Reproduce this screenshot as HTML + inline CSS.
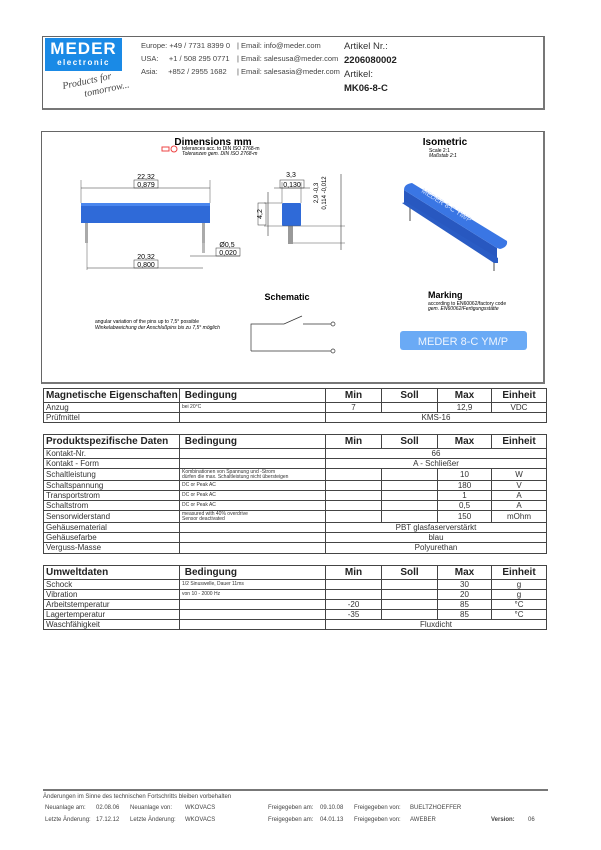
<!DOCTYPE html>
<html><head><meta charset="utf-8">
<style>
body{margin:0;width:601px;height:850px;background:#fff;position:relative;font-family:"Liberation Sans",sans-serif;color:#222;overflow:hidden}
.a{position:absolute;white-space:nowrap}
.box{position:absolute;border:1px solid #666;border-right:2px solid #777;border-bottom:2px solid #777}
table{position:absolute;border-collapse:collapse;left:43px;width:503px;table-layout:fixed}
td{border:1px solid #444;padding:0 2px;font-size:8px;line-height:8px;overflow:hidden;white-space:nowrap;color:#333}
td.c{text-align:center}
tr.h td{font-size:10px;font-weight:bold;color:#222;line-height:12px}
td.s{font-size:5px;line-height:5px}
</style></head><body>

<!-- header -->
<div class="box" style="left:42px;top:36px;width:500px;height:71px"></div>
<div class="a" style="left:45px;top:38px;width:77px;height:33px;background:#1a8ae6"></div>
<div class="a" style="left:47px;top:39px;width:73px;text-align:center;color:#fff;font-weight:bold;font-size:17px;letter-spacing:1px">MEDER</div>
<div class="a" style="left:47px;top:58px;width:73px;text-align:center;color:#fff;font-weight:bold;font-size:8px;letter-spacing:1.5px">electronic</div>
<div class="a" style="left:62px;top:76px;font-family:'Liberation Serif',serif;font-style:italic;font-size:10px;color:#444;transform:rotate(-12deg)">Products for</div>
<div class="a" style="left:84px;top:84px;font-family:'Liberation Serif',serif;font-style:italic;font-size:10px;color:#444;transform:rotate(-12deg)">tomorrow...</div>
<div class="a" style="left:141px;top:41px;font-size:7.5px;color:#444">Europe: +49 / 7731 8399 0</div>
<div class="a" style="left:141px;top:54px;font-size:7.5px;color:#444">USA:&nbsp;&nbsp;&nbsp;&nbsp; +1 / 508 295 0771</div>
<div class="a" style="left:141px;top:67px;font-size:7.5px;color:#444">Asia:&nbsp;&nbsp;&nbsp;&nbsp; +852 / 2955 1682</div>
<div class="a" style="left:237px;top:41px;font-size:7.5px;color:#444">| Email: info@meder.com</div>
<div class="a" style="left:237px;top:54px;font-size:7.5px;color:#444">| Email: salesusa@meder.com</div>
<div class="a" style="left:237px;top:67px;font-size:7.5px;color:#444">| Email: salesasia@meder.com</div>
<div class="a" style="left:344px;top:41px;font-size:9.5px;color:#333">Artikel Nr.:</div>
<div class="a" style="left:344px;top:55px;font-size:9.5px;font-weight:bold;color:#222">2206080002</div>
<div class="a" style="left:344px;top:69px;font-size:9.5px;color:#333">Artikel:</div>
<div class="a" style="left:344px;top:83px;font-size:9.5px;font-weight:bold;color:#222">MK06-8-C</div>

<!-- drawing box -->
<div class="box" style="left:41px;top:131px;width:501px;height:250px"></div>
<svg class="a" style="left:0;top:0" width="601" height="400" font-family="Liberation Sans, sans-serif">
<text x="213" y="145" font-size="10" font-weight="bold" text-anchor="middle">Dimensions mm</text>
<text x="182" y="150" font-size="5">tolerances acc. to DIN ISO 2768-m</text>
<text x="182" y="155" font-size="5" font-style="italic">Toleranzen gem. DIN ISO 2768-m</text>
<circle cx="174" cy="149" r="3" fill="none" stroke="#e44" stroke-width="1"/>
<rect x="162" y="147" width="7" height="4" fill="none" stroke="#e44"/>
<!-- side view -->
<rect x="81" y="203" width="129" height="20" fill="#2f6ad8"/>
<rect x="81" y="203" width="129" height="3" fill="#4a86ee"/>
<line x1="81" y1="180" x2="81" y2="203" stroke="#555" stroke-width=".5"/>
<line x1="210" y1="180" x2="210" y2="203" stroke="#555" stroke-width=".5"/>
<line x1="81" y1="188" x2="210" y2="188" stroke="#333" stroke-width=".6"/>
<text x="146" y="179" font-size="7" text-anchor="middle">22,32</text>
<rect x="134" y="180" width="24" height="8" fill="none" stroke="#333" stroke-width=".5"/>
<text x="146" y="187" font-size="7" text-anchor="middle">0,879</text>
<rect x="85" y="223" width="3" height="20" fill="#aaa"/>
<rect x="202" y="223" width="3" height="20" fill="#aaa"/>
<rect x="202" y="243" width="3" height="10" fill="#bbb"/>
<line x1="87" y1="243" x2="87" y2="270" stroke="#555" stroke-width=".5"/>
<line x1="87" y1="268" x2="203" y2="268" stroke="#333" stroke-width=".6"/>
<text x="146" y="259" font-size="7" text-anchor="middle">20,32</text>
<rect x="134" y="260" width="24" height="8" fill="none" stroke="#333" stroke-width=".5"/>
<text x="146" y="267" font-size="7" text-anchor="middle">0,800</text>
<line x1="190" y1="256" x2="240" y2="256" stroke="#333" stroke-width=".5"/>
<text x="227" y="247" font-size="7" text-anchor="middle">Ø0,5</text>
<rect x="216" y="248" width="24" height="8" fill="none" stroke="#333" stroke-width=".5"/>
<text x="228" y="255" font-size="7" text-anchor="middle">0,020</text>
<!-- end view -->
<rect x="282" y="203" width="19" height="23" rx="1" fill="#2f6ad8"/>
<rect x="288" y="226" width="5" height="18" fill="#999"/>
<line x1="282" y1="182" x2="282" y2="203" stroke="#555" stroke-width=".5"/>
<line x1="301" y1="182" x2="301" y2="203" stroke="#555" stroke-width=".5"/>
<line x1="274" y1="188" x2="310" y2="188" stroke="#333" stroke-width=".6"/>
<text x="291" y="177" font-size="7" text-anchor="middle">3,3</text>
<rect x="280" y="180" width="24" height="8" fill="none" stroke="#333" stroke-width=".5"/>
<text x="292" y="187" font-size="7" text-anchor="middle">0,130</text>
<line x1="268" y1="192" x2="268" y2="236" stroke="#333" stroke-width=".6"/>
<line x1="264" y1="203" x2="282" y2="203" stroke="#555" stroke-width=".5"/>
<line x1="264" y1="226" x2="345" y2="226" stroke="#555" stroke-width=".5"/>
<text transform="translate(262,214) rotate(-90)" font-size="7" text-anchor="middle">4,2</text>
<rect x="258" y="203" width="8" height="22" fill="none" stroke="#333" stroke-width=".5"/>
<line x1="341" y1="174" x2="341" y2="250" stroke="#333" stroke-width=".6"/>
<line x1="293" y1="243" x2="345" y2="243" stroke="#555" stroke-width=".5"/>
<text transform="translate(318,193) rotate(-90)" font-size="6" text-anchor="middle">2,9 -0,3</text>
<text transform="translate(326,193) rotate(-90)" font-size="6" text-anchor="middle">0,114 -0,012</text>
<!-- isometric -->
<text x="445" y="145" font-size="10" font-weight="bold" text-anchor="middle">Isometric</text>
<text x="429" y="152" font-size="5">Scale 2:1</text>
<text x="429" y="157" font-size="5" font-style="italic">Maßstab 2:1</text>
<line x1="410" y1="205" x2="410" y2="221" stroke="#888" stroke-width="1.5"/>
<line x1="494" y1="258" x2="494" y2="271" stroke="#888" stroke-width="1.5"/>
<polygon points="404,190 497,248 497,262 404,204" fill="#2858c0"/>
<polygon points="402,203 406,202 498,258 498,263 494,263" fill="#2a5cc4"/>
<path d="M404,190 Q404,184 412,183 L507,241 Q508,247 500,249 L497,248 Z" fill="#3a76e4"/>
<text transform="translate(421,192) rotate(32)" font-size="7" fill="#d0e0ff">MEDER 8-C YM/P</text>
<!-- schematic -->
<text x="287" y="300" font-size="9" font-weight="bold" text-anchor="middle">Schematic</text>
<text x="95" y="323" font-size="5">angular variation of the pins up to 7,5° possible</text>
<text x="95" y="329" font-size="5" font-style="italic">Winkelabweichung der Anschlußpins bis zu 7,5° möglich</text>
<polyline points="333,324 303,324" fill="none" stroke="#333" stroke-width=".7"/>
<polyline points="251,351 251,324 284,324 302,316" fill="none" stroke="#333" stroke-width=".7"/>
<line x1="251" y1="351" x2="331" y2="351" stroke="#333" stroke-width=".7"/>
<circle cx="333" cy="324" r="2" fill="#fff" stroke="#333" stroke-width=".7"/>
<circle cx="333" cy="351" r="2" fill="#fff" stroke="#333" stroke-width=".7"/>
<!-- marking -->
<text x="428" y="298" font-size="9" font-weight="bold">Marking</text>
<text x="428" y="305" font-size="5">according to EN60062/factory code</text>
<text x="428" y="310" font-size="5" font-style="italic">gem. EN60062/Fertigungsstätte</text>
<rect x="400" y="331" width="127" height="19" rx="3" fill="#6aaaf5"/>
<text x="463" y="345" font-size="11" fill="#eef5ff" text-anchor="middle">MEDER 8-C YM/P</text>
</svg>

<!-- tables -->
<table style="top:388px">
<colgroup><col style="width:136px"><col style="width:146px"><col style="width:56px"><col style="width:56px"><col style="width:54px"><col style="width:55px"></colgroup>
<tr class="h" style="height:14px"><td>Magnetische Eigenschaften</td><td>&nbsp;Bedingung</td><td class="c">Min</td><td class="c">Soll</td><td class="c">Max</td><td class="c">Einheit</td></tr>
<tr style="height:10px"><td>Anzug</td><td class="s">bei 20°C</td><td class="c">7</td><td></td><td class="c">12,9</td><td class="c">VDC</td></tr>
<tr style="height:10px"><td>Prüfmittel</td><td></td><td class="c" colspan="4">KMS-16</td></tr>
</table>

<table style="top:434px">
<colgroup><col style="width:136px"><col style="width:146px"><col style="width:56px"><col style="width:56px"><col style="width:54px"><col style="width:55px"></colgroup>
<tr class="h" style="height:14px"><td>Produktspezifische Daten</td><td>&nbsp;Bedingung</td><td class="c">Min</td><td class="c">Soll</td><td class="c">Max</td><td class="c">Einheit</td></tr>
<tr style="height:10px"><td>Kontakt-Nr.</td><td></td><td class="c" colspan="4">66</td></tr>
<tr style="height:10px"><td>Kontakt - Form</td><td></td><td class="c" colspan="4">A - Schließer</td></tr>
<tr style="height:12px"><td>Schaltleistung</td><td class="s">Kombinationen von Spannung und -Strom<br>dürfen die max. Schaltleistung nicht übersteigen</td><td></td><td></td><td class="c">10</td><td class="c">W</td></tr>
<tr style="height:10px"><td>Schaltspannung</td><td class="s">DC or Peak AC</td><td></td><td></td><td class="c">180</td><td class="c">V</td></tr>
<tr style="height:10px"><td>Transportstrom</td><td class="s">DC or Peak AC</td><td></td><td></td><td class="c">1</td><td class="c">A</td></tr>
<tr style="height:10px"><td>Schaltstrom</td><td class="s">DC or Peak AC</td><td></td><td></td><td class="c">0,5</td><td class="c">A</td></tr>
<tr style="height:12px"><td>Sensorwiderstand</td><td class="s">measured with 40% overdrive<br>Sensor deactivated</td><td></td><td></td><td class="c">150</td><td class="c">mOhm</td></tr>
<tr style="height:10px"><td>Gehäusematerial</td><td></td><td class="c" colspan="4">PBT glasfaserverstärkt</td></tr>
<tr style="height:10px"><td>Gehäusefarbe</td><td></td><td class="c" colspan="4">blau</td></tr>
<tr style="height:11px"><td>Verguss-Masse</td><td></td><td class="c" colspan="4">Polyurethan</td></tr>
</table>

<table style="top:565px">
<colgroup><col style="width:136px"><col style="width:146px"><col style="width:56px"><col style="width:56px"><col style="width:54px"><col style="width:55px"></colgroup>
<tr class="h" style="height:14px"><td>Umweltdaten</td><td>&nbsp;Bedingung</td><td class="c">Min</td><td class="c">Soll</td><td class="c">Max</td><td class="c">Einheit</td></tr>
<tr style="height:10px"><td>Schock</td><td class="s">1/2 Sinuswelle, Dauer 11ms</td><td></td><td></td><td class="c">30</td><td class="c">g</td></tr>
<tr style="height:10px"><td>Vibration</td><td class="s">von 10 - 2000 Hz</td><td></td><td></td><td class="c">20</td><td class="c">g</td></tr>
<tr style="height:10px"><td>Arbeitstemperatur</td><td></td><td class="c">-20</td><td></td><td class="c">85</td><td class="c">°C</td></tr>
<tr style="height:10px"><td>Lagertemperatur</td><td></td><td class="c">-35</td><td></td><td class="c">85</td><td class="c">°C</td></tr>
<tr style="height:10px"><td>Waschfähigkeit</td><td></td><td class="c" colspan="4">Fluxdicht</td></tr>
</table>

<!-- footer -->
<div class="a" style="left:43px;top:789px;width:505px;height:2px;background:#777"></div>
<div class="a" style="left:43px;top:794px;font-size:6px;color:#444">Änderungen im Sinne des technischen Fortschritts bleiben vorbehalten</div>
<div class="a" style="left:45px;top:805px;font-size:6px;color:#444">Neuanlage am:</div>
<div class="a" style="left:96px;top:805px;font-size:6px;color:#444">02.08.06</div>
<div class="a" style="left:130px;top:805px;font-size:6px;color:#444">Neuanlage von:</div>
<div class="a" style="left:185px;top:805px;font-size:6px;color:#444">WKOVACS</div>
<div class="a" style="left:268px;top:805px;font-size:6px;color:#444">Freigegeben am:</div>
<div class="a" style="left:320px;top:805px;font-size:6px;color:#444">09.10.08</div>
<div class="a" style="left:354px;top:805px;font-size:6px;color:#444">Freigegeben von:</div>
<div class="a" style="left:410px;top:805px;font-size:6px;color:#444">BUELTZHOEFFER</div>
<div class="a" style="left:45px;top:817px;font-size:6px;color:#444">Letzte Änderung:</div>
<div class="a" style="left:96px;top:817px;font-size:6px;color:#444">17.12.12</div>
<div class="a" style="left:130px;top:817px;font-size:6px;color:#444">Letzte Änderung:</div>
<div class="a" style="left:185px;top:817px;font-size:6px;color:#444">WKOVACS</div>
<div class="a" style="left:268px;top:817px;font-size:6px;color:#444">Freigegeben am:</div>
<div class="a" style="left:320px;top:817px;font-size:6px;color:#444">04.01.13</div>
<div class="a" style="left:354px;top:817px;font-size:6px;color:#444">Freigegeben von:</div>
<div class="a" style="left:410px;top:817px;font-size:6px;color:#444">AWEBER</div>
<div class="a" style="left:491px;top:817px;font-size:6px;font-weight:bold;color:#444">Version:</div>
<div class="a" style="left:528px;top:817px;font-size:6px;color:#444">06</div>
</body></html>
